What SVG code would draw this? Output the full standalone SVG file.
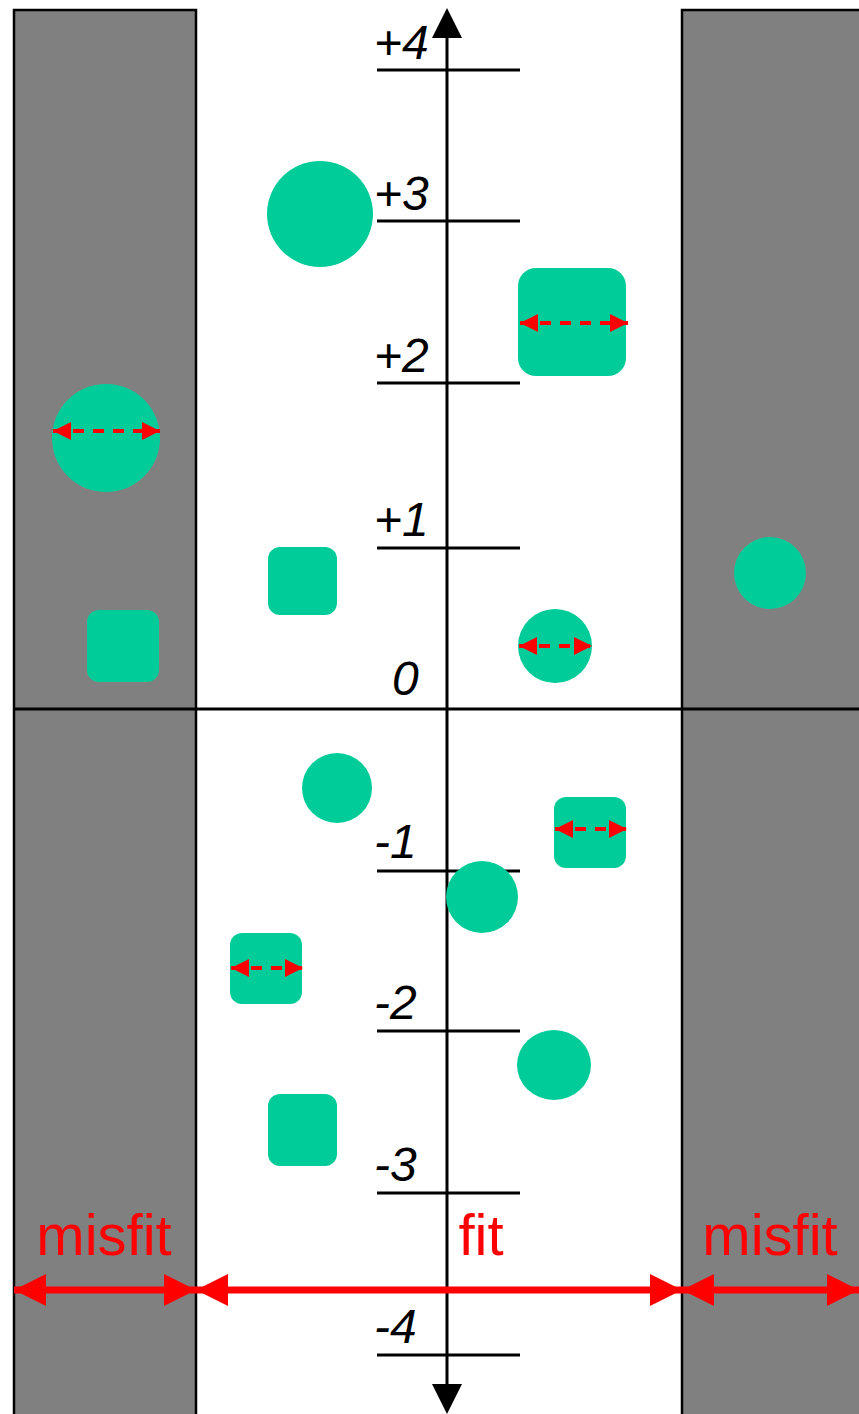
<svg xmlns="http://www.w3.org/2000/svg" width="859" height="1414" viewBox="0 0 859 1414">
<style>
.band{fill:#808080;stroke:#000;stroke-width:2.5}
.shape{fill:#00cc99}
.tick{stroke:#000;stroke-width:3}
.lbl{font-family:"Liberation Sans",Arial,sans-serif;font-style:italic;font-size:48px;fill:#000}
.red{font-family:"Liberation Sans",Arial,sans-serif;font-size:58px;fill:#ff0000;text-anchor:middle}
.dash{stroke:#ff0000;stroke-width:4;stroke-dasharray:11 9;fill:none}
.big{stroke:#ff0000;stroke-width:7;fill:none}
</style>
<defs>
<marker id="sh" viewBox="0 0 18 18" refX="18" refY="9" markerWidth="18" markerHeight="18" markerUnits="userSpaceOnUse" orient="auto-start-reverse"><path d="M0,0 L18,9 L0,18 Z" fill="#ff0000"/></marker>
<marker id="bh" viewBox="0 0 32 32" refX="32" refY="16" markerWidth="32" markerHeight="32" markerUnits="userSpaceOnUse" orient="auto-start-reverse"><path d="M0,0 L32,16 L0,32 Z" fill="#ff0000"/></marker>
</defs>
<rect width="859" height="1414" fill="#fff"/>
<g id="bands">
<rect class="band" x="14" y="10" width="182" height="1410"/>
<rect class="band" x="682" y="10" width="182" height="1410"/>
</g>
<g id="axis">
<line x1="14" y1="709" x2="859" y2="709" stroke="#000" stroke-width="3"/>
<line x1="447" y1="30" x2="447" y2="1390" stroke="#000" stroke-width="3"/>
<path d="M447,8 L462,38 L432,38 Z" fill="#000"/>
<path d="M447,1414 L462,1384 L432,1384 Z" fill="#000"/>
<line class="tick" x1="377" y1="70" x2="520" y2="70"/>
<line class="tick" x1="377" y1="221" x2="520" y2="221"/>
<line class="tick" x1="377" y1="383" x2="520" y2="383"/>
<line class="tick" x1="377" y1="548" x2="520" y2="548"/>
<line class="tick" x1="377" y1="871" x2="520" y2="871"/>
<line class="tick" x1="377" y1="1031" x2="520" y2="1031"/>
<line class="tick" x1="377" y1="1193" x2="520" y2="1193"/>
<line class="tick" x1="377" y1="1355" x2="520" y2="1355"/>
<text class="lbl" x="374" y="59">+4</text>
<text class="lbl" x="374" y="210">+3</text>
<text class="lbl" x="374" y="372">+2</text>
<text class="lbl" x="374" y="536">+1</text>
<text class="lbl" x="392" y="695">0</text>
<text class="lbl" x="374" y="858">-1</text>
<text class="lbl" x="374" y="1019">-2</text>
<text class="lbl" x="374" y="1181">-3</text>
<text class="lbl" x="374" y="1343">-4</text>
</g>
<g id="n1"><circle class="shape" cx="320" cy="214" r="53"/></g>
<g id="n2"><rect class="shape" x="518" y="268" width="108" height="108" rx="18"/></g>
<g id="n3"><circle class="shape" cx="106" cy="438" r="54"/></g>
<g id="n4"><rect class="shape" x="268" y="547" width="69" height="68" rx="12"/></g>
<g id="n5"><rect class="shape" x="87" y="610" width="72" height="72" rx="12"/></g>
<g id="n6"><circle class="shape" cx="555" cy="646" r="37"/></g>
<g id="n7"><circle class="shape" cx="770" cy="573" r="36"/></g>
<g id="n8"><circle class="shape" cx="337" cy="788" r="35"/></g>
<g id="n9"><rect class="shape" x="554" y="797" width="72" height="71" rx="12"/></g>
<g id="n10"><circle class="shape" cx="482" cy="897" r="36"/></g>
<g id="n11"><rect class="shape" x="230" y="933" width="72" height="71" rx="12"/></g>
<g id="n12"><ellipse class="shape" cx="554" cy="1065" rx="37" ry="35"/></g>
<g id="n13"><rect class="shape" x="268" y="1094" width="69" height="72" rx="12"/></g>
<g id="connectors">
<line class="dash" x1="520" y1="323" x2="628" y2="323" marker-start="url(#sh)" marker-end="url(#sh)"/>
<line class="dash" x1="53" y1="431" x2="160" y2="431" marker-start="url(#sh)" marker-end="url(#sh)"/>
<line class="dash" x1="519" y1="646" x2="592" y2="646" marker-start="url(#sh)" marker-end="url(#sh)"/>
<line class="dash" x1="555" y1="829" x2="627" y2="829" marker-start="url(#sh)" marker-end="url(#sh)"/>
<line class="dash" x1="231" y1="968" x2="303" y2="968" marker-start="url(#sh)" marker-end="url(#sh)"/>
<line class="big" x1="14" y1="1290" x2="196" y2="1290" marker-start="url(#bh)" marker-end="url(#bh)"/>
<line class="big" x1="196" y1="1290" x2="682" y2="1290" marker-start="url(#bh)" marker-end="url(#bh)"/>
<line class="big" x1="682" y1="1290" x2="859" y2="1290" marker-start="url(#bh)" marker-end="url(#bh)"/>
</g>
<g id="labels">
<text class="red" x="104" y="1255">misfit</text>
<text class="red" x="481" y="1255">fit</text>
<text class="red" x="770" y="1255">misfit</text>
</g>
</svg>
